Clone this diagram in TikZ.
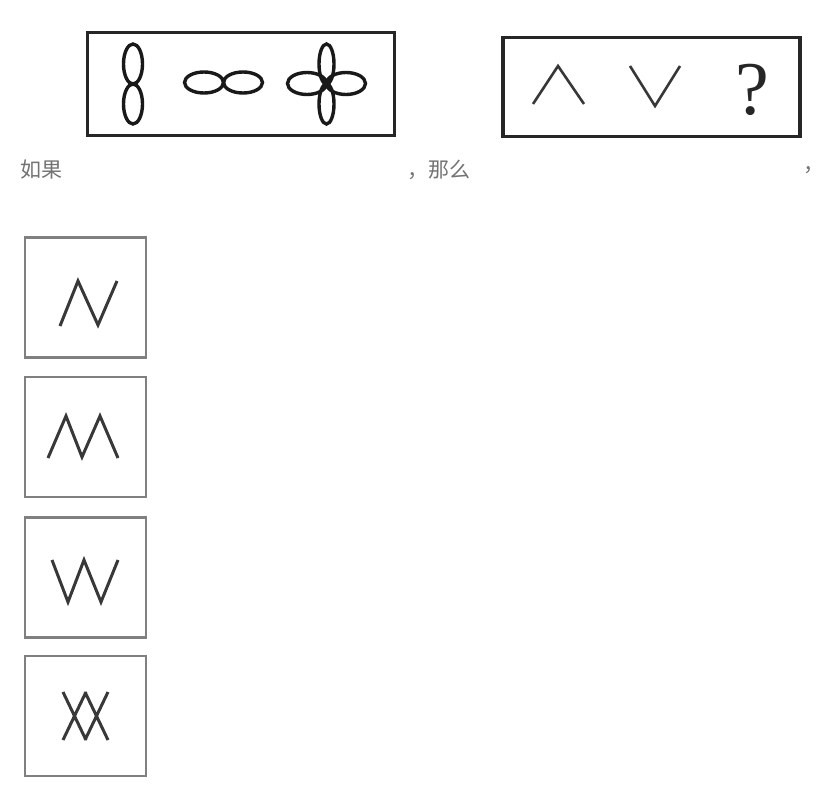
\documentclass[tikz,border=0pt]{standalone}
\usepackage{fontspec}
\newfontfamily\cjk{Noto Sans CJK SC}
\newfontfamily\qfont{Liberation Serif}
\begin{document}
\begin{tikzpicture}[x=1pt,y=-1pt,
  bigbox/.style={draw=black!85, line width=3.2pt, inner sep=0pt},
  optbox/.style={draw=black!50, line width=2.8pt, inner sep=0pt, minimum width=121pt, minimum height=120pt},
  glyph/.style={draw=black!78, line width=3pt, line join=miter},
  loop/.style={draw=black!90, line width=3.4pt},
  label/.style={inner sep=0pt, text=black!55, font=\cjk\fontsize{21}{21}\selectfont}]
\useasboundingbox (0,0) rectangle (826,805);
\fill[white] (0,0) rectangle (826,805);
% question boxes
\node[bigbox, minimum width=307pt, minimum height=103pt] (q1) at (241,84) {};
\node[bigbox, minimum width=297pt, minimum height=99pt] (q2) at (651.5,87) {};
% figure eight (vertical)
\draw[loop] (133,64) ellipse [x radius=9.5, y radius=20];
\draw[loop] (133,104) ellipse [x radius=9.5, y radius=20];
% infinity
\draw[loop] (204,82.5) ellipse [x radius=19.5, y radius=10.5];
\draw[loop] (243,82.5) ellipse [x radius=19.5, y radius=10.5];
% clover
\draw[loop] (326.5,64) ellipse [x radius=7.5, y radius=20];
\draw[loop] (326.5,104) ellipse [x radius=7.5, y radius=20];
\draw[loop] (307,83.5) ellipse [x radius=19.5, y radius=11];
\draw[loop] (346,83.5) ellipse [x radius=19.5, y radius=11];
% second box content
\draw[glyph, line width=2.6pt] (533,104) -- (558,66) -- (584,104);
\draw[glyph, line width=2.6pt] (630,66) -- (655,106) -- (680,66);
\node[inner sep=0pt, font=\qfont\fontsize{76}{76}\selectfont, text=black!85] (qm) at (752,90) {?};
% text line
\node[label, anchor=west] (t1) at (20,170) {如果};
\node[label, anchor=west] (t2) at (407,170) {，那么};
\node[label, anchor=west] (t3) at (803,170) {，};
% option boxes
\node[optbox] (oa) at (85.5,297.5) {};
\node[optbox] (ob) at (85.5,437) {};
\node[optbox] (oc) at (85.5,577.5) {};
\node[optbox] (od) at (85.5,716) {};
% option glyphs
\draw[glyph] (60,326) -- (78,281) -- (98,325) -- (117,281);
\draw[glyph] (48,458) -- (66,416) -- (82,457) -- (100,416) -- (118,458);
\draw[glyph] (52,560) -- (68,602) -- (84,560) -- (101,602) -- (118,560);
\draw[glyph] (63,692) -- (86,740) (86,692) -- (63,740)
             (85,692) -- (108,740) (108,692) -- (85,740);
\end{tikzpicture}
\end{document}
